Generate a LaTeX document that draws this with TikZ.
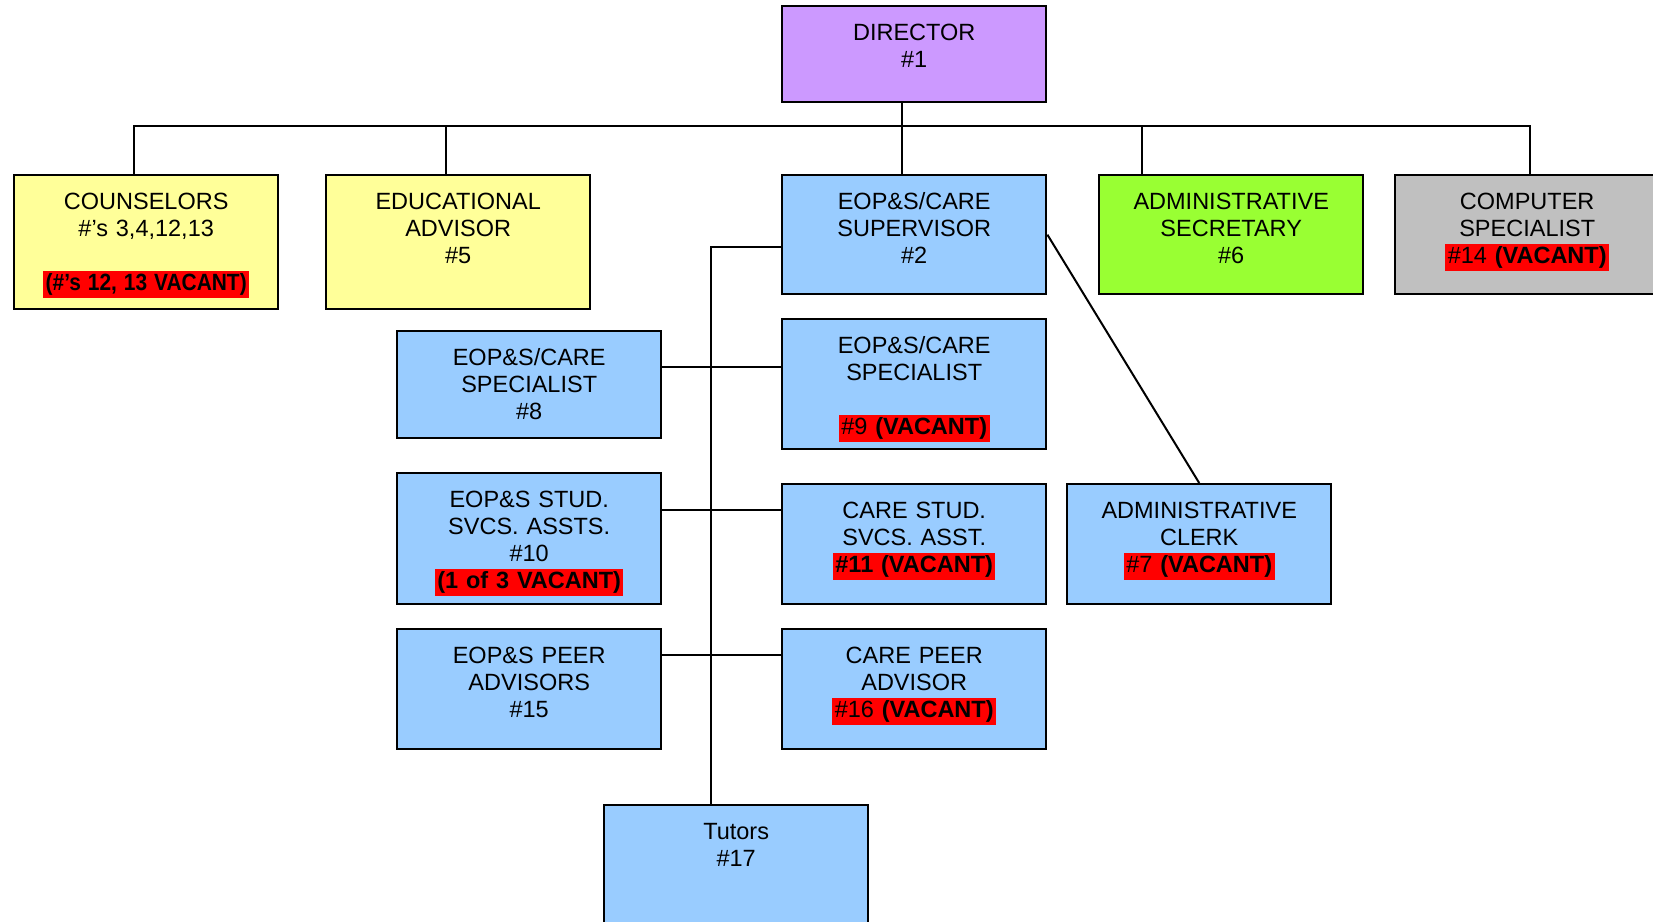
\documentclass[tikz,border=0pt]{standalone}
\usepackage{fontspec}
\setmainfont{Liberation Sans}
\usepackage{graphicx}
\usepackage{tikz}
\usetikzlibrary{positioning}
\usepackage{xcolor}
\definecolor{chief}{HTML}{CC99FF}
\definecolor{staff}{HTML}{FFFF99}
\definecolor{deptblue}{HTML}{99CCFF}
\definecolor{office}{HTML}{99FF33}
\definecolor{tech}{HTML}{C0C0C0}
\definecolor{vacred}{HTML}{FF0000}
\newcommand{\orgfont}{\fontsize{11.75pt}{13.6pt}\selectfont}
\newcommand{\vacant}[1]{{\setlength{\fboxsep}{1.2pt}\colorbox{vacred}{#1}}}
\tikzset{
  post/.style={draw=black,line width=1.2pt,anchor=north west,inner sep=0pt,
    text width=132pt,align=center,text height=17pt,text depth=#1,font=\orgfont},
  link/.style={draw=black,line width=1pt}
}

\begin{document}
\begin{tikzpicture}[x=0.5pt,y=-0.5pt]
  \clip (0,0) rectangle (1653,921);
  \node[post=31pt,fill=chief] (dir) at (781,5) {DIRECTOR\\\#1};
  \node[post=50pt,fill=staff] (couns) at (13,174) {COUNSELORS\\\#’s 3,4,12,13\\[13.6pt]\vacant{\scalebox{0.89}[1]{\textbf{(\#’s 12, 13 VACANT)}}}};
  \node[post=50pt,fill=staff] (edu) at (325,174) {EDUCATIONAL\\ADVISOR\\\#5};
  \node[post=42.5pt,fill=deptblue] (sup) at (781,174) {EOP\&S/CARE\\SUPERVISOR\\\#2};
  \node[post=42.5pt,fill=office] (sec) at (1098,174) {ADMINISTRATIVE\\SECRETARY\\\#6};
  \node[post=42.5pt,fill=tech] (comp) at (1394,174) {COMPUTER\\SPECIALIST\\\vacant{\#14 \textbf{(VACANT)}}};
  \node[post=36.5pt,fill=deptblue] (spec8) at (396,330) {EOP\&S/CARE\\SPECIALIST\\\#8};
  \node[post=48pt,fill=deptblue] (spec9) at (781,318) {EOP\&S/CARE\\SPECIALIST\\[13.6pt]\vacant{\#9 \textbf{(VACANT)}}};
  \node[post=48.5pt,fill=deptblue] (asst10) at (396,472) {EOP\&S STUD.\\SVCS. ASSTS.\\\#10\\\vacant{\textbf{(1 of 3 VACANT)}}};
  \node[post=43pt,fill=deptblue] (asst11) at (781,483) {CARE STUD.\\SVCS. ASST.\\\vacant{\textbf{\#11 (VACANT)}}};
  \node[post=43pt,fill=deptblue] (clerk) at (1066,483) {ADMINISTRATIVE\\CLERK\\\vacant{\#7 \textbf{(VACANT)}}};
  \node[post=43pt,fill=deptblue] (peer15) at (396,628) {EOP\&S PEER\\ADVISORS\\\#15};
  \node[post=43pt,fill=deptblue] (peer16) at (781,628) {CARE PEER\\ADVISOR\\\vacant{\#16 \textbf{(VACANT)}}};
  \node[post=53pt,fill=deptblue] (tut) at (603,804) {Tutors\\\#17};
  \coordinate (bus) at (901,126);
  \draw[link] ([xshift=-6pt]dir.south) -- ([xshift=-6pt]sup.north);
  \draw[link] ([xshift=-6pt]couns.north) |- (bus) -| ([xshift=1.5pt]comp.north);
  \draw[link] ([xshift=-6pt]edu.north |- bus) -- ([xshift=-6pt]edu.north);
  \draw[link] ([xshift=-44.5pt]sec.north |- bus) -- ([xshift=-44.5pt]sec.north);
  \draw[link] ([yshift=-6.25pt]sup.west) -| ([xshift=-12.75pt]tut.north);
  \draw[link] (sup.east) -- (clerk.north);
  \draw[link] ([yshift=8.75pt]spec8.east) -- ([yshift=8.75pt]spec8.east -| spec9.west);
  \draw[link] ([yshift=14.25pt]asst10.east) -- ([yshift=14.25pt]asst10.east -| asst11.west);
  \draw[link] ([yshift=17pt]peer15.east) -- ([yshift=17pt]peer15.east -| peer16.west);
\end{tikzpicture}
\end{document}
